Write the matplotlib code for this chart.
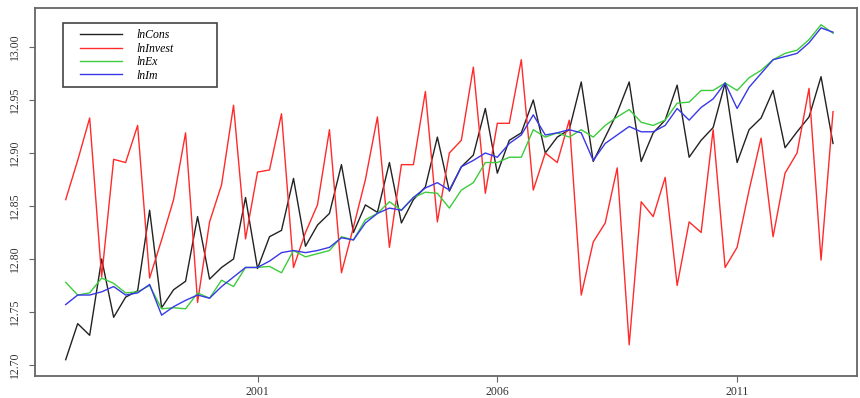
import numpy as np
import matplotlib.pyplot as plt
from matplotlib.patches import Rectangle

# quarterly series, 1997Q1 .. 2013Q1
start_year = 1997

ln_cons = [12.705, 12.739, 12.728, 12.800, 12.745, 12.764, 12.770, 12.846,
           12.754, 12.771, 12.779, 12.840, 12.781, 12.792, 12.800, 12.858,
           12.791, 12.821, 12.827, 12.876, 12.812, 12.832, 12.843, 12.889,
           12.825, 12.851, 12.844, 12.891, 12.834, 12.856, 12.868, 12.915,
           12.864, 12.887, 12.898, 12.942, 12.881, 12.912, 12.919, 12.950,
           12.900, 12.915, 12.922, 12.967, 12.892, 12.915, 12.938, 12.967,
           12.892, 12.919, 12.931, 12.964, 12.896, 12.912, 12.924, 12.966,
           12.891, 12.922, 12.933, 12.959, 12.905, 12.920, 12.934, 12.972,
           12.909]

ln_invest = [12.856, 12.893, 12.933, 12.783, 12.894, 12.891, 12.926, 12.782,
             12.818, 12.856, 12.919, 12.759, 12.835, 12.870, 12.945, 12.819,
             12.882, 12.884, 12.937, 12.792, 12.825, 12.851, 12.922, 12.787,
             12.830, 12.875, 12.934, 12.811, 12.889, 12.889, 12.958, 12.835,
             12.900, 12.912, 12.981, 12.862, 12.928, 12.928, 12.988, 12.865,
             12.900, 12.891, 12.931, 12.766, 12.816, 12.834, 12.886, 12.719,
             12.854, 12.840, 12.877, 12.775, 12.835, 12.825, 12.922, 12.792,
             12.811, 12.865, 12.914, 12.821, 12.881, 12.900, 12.961, 12.799,
             12.939]

ln_ex = [12.778, 12.766, 12.768, 12.782, 12.777, 12.768, 12.769, 12.775,
         12.753, 12.754, 12.753, 12.768, 12.763, 12.780, 12.774, 12.792,
         12.792, 12.793, 12.787, 12.808, 12.802, 12.805, 12.808, 12.821,
         12.818, 12.837, 12.843, 12.854, 12.846, 12.858, 12.863, 12.862,
         12.848, 12.865, 12.872, 12.891, 12.891, 12.896, 12.896, 12.922,
         12.915, 12.919, 12.915, 12.922, 12.915, 12.926, 12.934, 12.941,
         12.929, 12.926, 12.931, 12.947, 12.948, 12.959, 12.959, 12.966,
         12.959, 12.971, 12.978, 12.988, 12.994, 12.997, 13.007, 13.021,
         13.013]

ln_im = [12.757, 12.766, 12.766, 12.769, 12.774, 12.766, 12.768, 12.776,
         12.747, 12.755, 12.761, 12.766, 12.763, 12.774, 12.783, 12.792,
         12.792, 12.798, 12.806, 12.808, 12.806, 12.808, 12.811, 12.820,
         12.818, 12.834, 12.843, 12.848, 12.846, 12.858, 12.867, 12.872,
         12.865, 12.887, 12.893, 12.900, 12.896, 12.909, 12.917, 12.936,
         12.917, 12.919, 12.922, 12.919, 12.893, 12.909, 12.917, 12.925,
         12.920, 12.920, 12.926, 12.942, 12.931, 12.943, 12.951, 12.966,
         12.942, 12.962, 12.975, 12.988, 12.991, 12.994, 13.004, 13.018,
         13.014]

labels = ["lnCons", "lnInvest", "lnEx", "lnIm"]
colors = ["#222222", "#ff2a2a", "#3ccc3c", "#3838e8"]
x_ticks = [2001, 2006, 2011]
y_ticks = [12.70, 12.75, 12.80, 12.85, 12.90, 12.95, 13.00]

t = start_year + np.arange(len(ln_cons)) / 4

plt.rcParams["font.family"] = "Liberation Serif"

fig = plt.figure(figsize=(8.6, 3.98), dpi=100)
ax = fig.add_axes([35 / 860, 1 - 376 / 398, 822 / 860, 368 / 398])

for series, lab, col in zip([ln_cons, ln_invest, ln_ex, ln_im], labels, colors):
    ax.plot(t, series, color=col, linewidth=1.0, label=lab)

ax.set_xlim(1996.36, 2013.5)
ax.set_ylim(12.6896, 13.0368)
ax.set_xticks(x_ticks)
ax.set_xticklabels([str(y) for y in x_ticks])
ax.set_yticks(y_ticks)
ax.set_yticklabels([f"{v:.2f}" for v in y_ticks])

for sp in ax.spines.values():
    sp.set_color("#666666")
    sp.set_linewidth(1.3)
ax.tick_params(direction="out", length=4, color="#666666", labelsize=8.5,
               labelcolor="#333333")
ax.tick_params(axis="y", labelrotation=90, pad=6)
ax.tick_params(axis="x", pad=3)
for lbl in ax.get_yticklabels():
    lbl.set_va("center")

# R-style legend: wide box drawn separately
ax.add_patch(Rectangle((0.0341, 0.7853), 0.1873, 0.1739, transform=ax.transAxes,
                       fill=True, facecolor="white", edgecolor="#444444",
                       linewidth=1.2, zorder=4))
leg = ax.legend(loc="upper left", bbox_to_anchor=(0.0547, 0.942),
                prop={"family": "Liberation Serif", "style": "italic", "size": 8.5},
                frameon=False, handlelength=3.6, handletextpad=1.2,
                labelspacing=0.12, borderpad=0, borderaxespad=0)
leg.set_zorder(5)

fig.savefig("out.png", dpi=100)
